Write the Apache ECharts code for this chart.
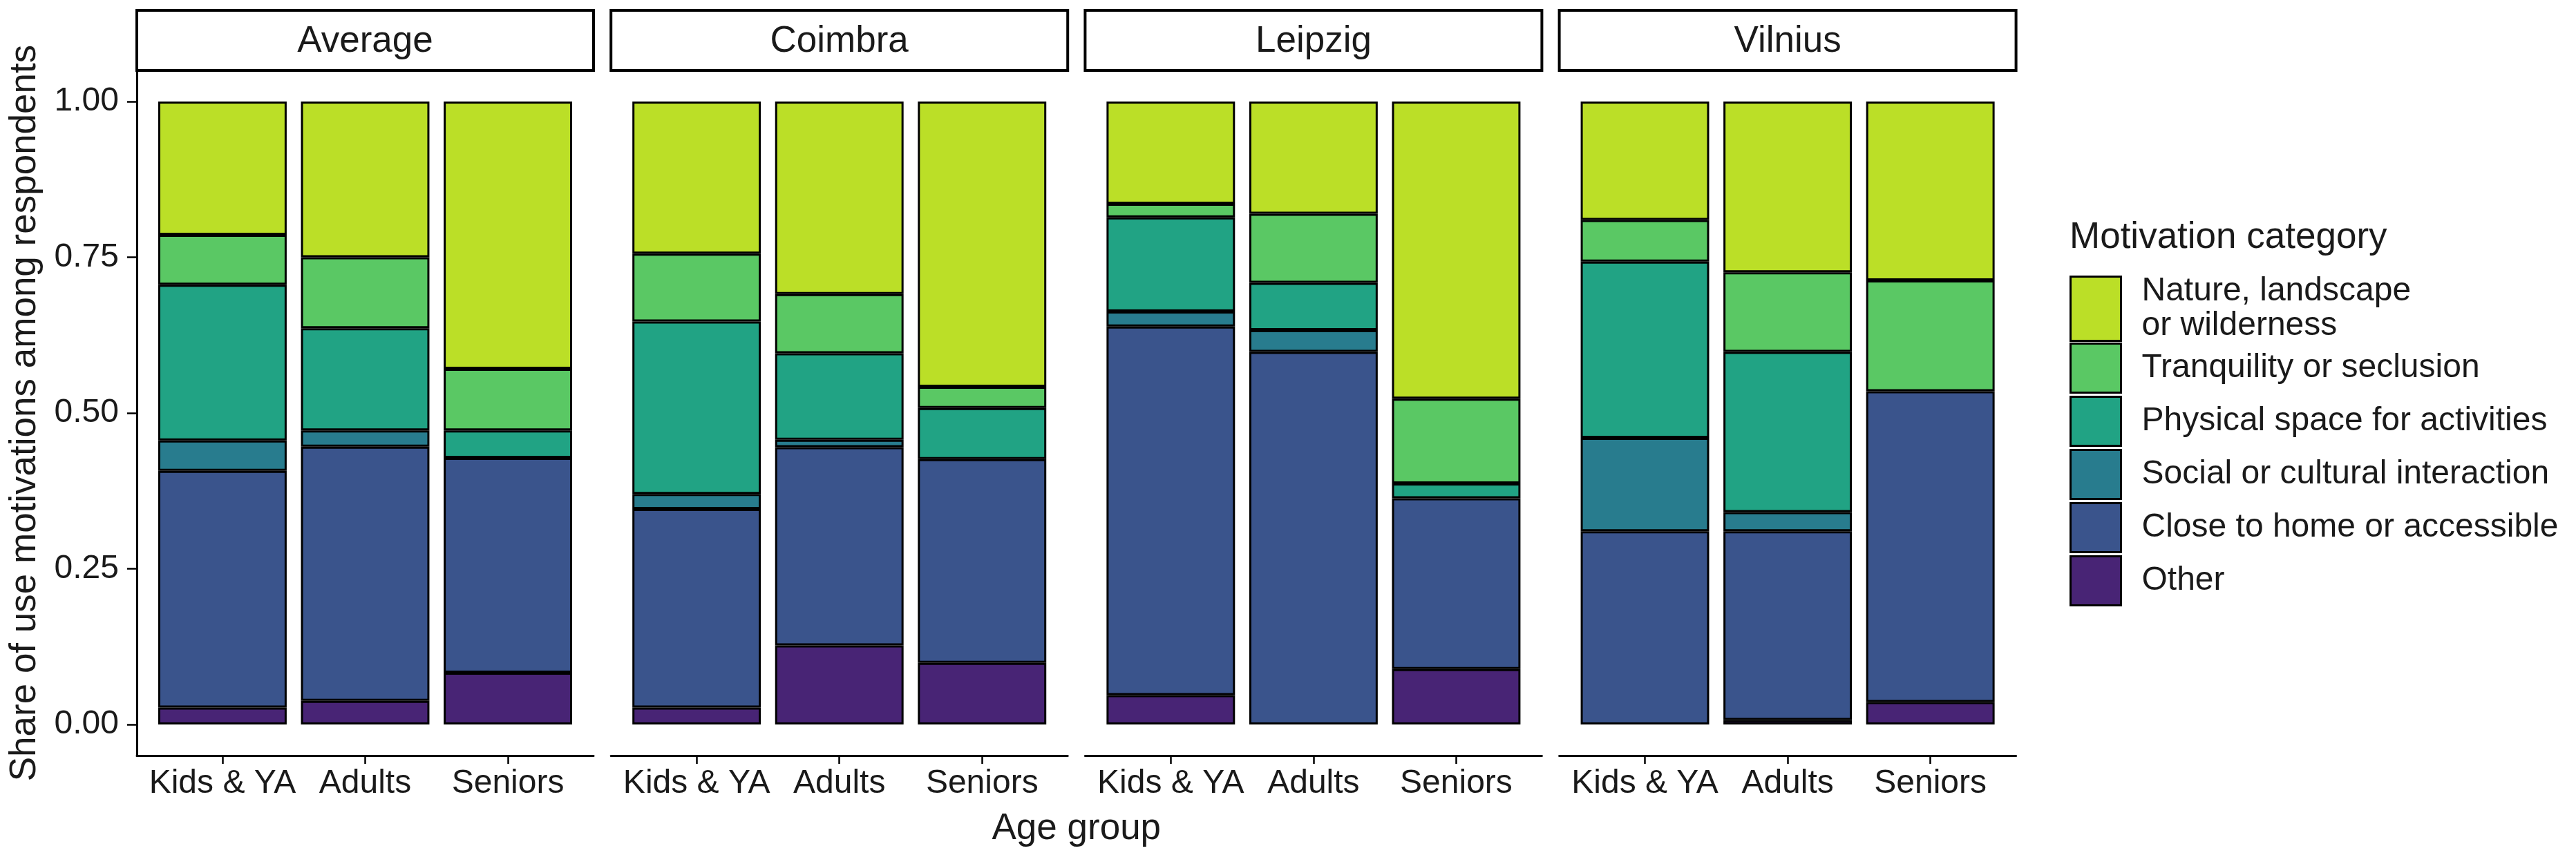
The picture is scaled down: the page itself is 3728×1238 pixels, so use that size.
<!DOCTYPE html>
<html><head><meta charset="utf-8">
<script src="https://cdn.jsdelivr.net/npm/echarts@6.0.0/dist/echarts.min.js"></script>
<style>html,body{margin:0;padding:0;background:#fff}#chart{width:3728px;height:1238px}</style>
</head><body><div id="chart"></div>
<script>
// ---------------- data ----------------
const cities = ['Average', 'Coimbra', 'Leipzig', 'Vilnius'];
const ageGroups = ['Kids & YA', 'Adults', 'Seniors'];
// stacking order, bottom to top
const motivations = ['Other', 'Close to home or accessible', 'Social or cultural interaction',
  'Physical space for activities', 'Tranquility or seclusion', 'Nature, landscape or wilderness'];
const yTickValues = [0, 0.25, 0.5, 0.75, 1];
// each array: 4 cities x 3 age groups (Kids & YA, Adults, Seniors)
const otherShare    = [0.027, 0.038, 0.083,  0.027, 0.127, 0.099,  0.047, 0.000, 0.089,  0.000, 0.007, 0.036];
const nearHomeShare = [0.380, 0.408, 0.345,  0.319, 0.318, 0.327,  0.592, 0.598, 0.274,  0.310, 0.303, 0.499];
const socialShare   = [0.049, 0.026, 0.000,  0.024, 0.012, 0.000,  0.024, 0.035, 0.000,  0.150, 0.031, 0.000];
const physicalShare = [0.250, 0.164, 0.044,  0.277, 0.139, 0.082,  0.151, 0.076, 0.024,  0.283, 0.257, 0.000];
const tranquilShare = [0.080, 0.114, 0.099,  0.109, 0.095, 0.034,  0.022, 0.111, 0.136,  0.067, 0.128, 0.178];
const natureShare   = [0.214, 0.250, 0.429,  0.244, 0.309, 0.458,  0.164, 0.180, 0.477,  0.190, 0.274, 0.287];
const shares = [otherShare, nearHomeShare, socialShare, physicalShare, tranquilShare, natureShare];

// ---------------- style / layout ----------------
const colors = ['#482475', '#3A548C', '#287C8E', '#21A384', '#5AC864', '#BBDF27'];
const FONT = '"Liberation Sans", Arial, Helvetica, sans-serif';
const TXT = '#1a1a1a';
const panelLeft0 = 198, panelPitch = 686.2, panelWidth = 661;
const panelTop = 102, panelHeight = 992, stripTop = 15;
const xExpand = 0.6; // discrete-axis padding in category units (each side)
const legendLeft = 2995, legendKeyW = 73;
const legendTops = [397, 496, 573, 650, 727, 804];
const legendHeights = [93, 71, 71, 71, 71, 71];

const chart = echarts.init(document.getElementById('chart'), null, {renderer: 'canvas'});

const nCat = ageGroups.length;
const unitPx = panelWidth / (nCat - 1 + 2 * xExpand);
const barInset = unitPx * (xExpand - 0.5);
const grid = [], xAxis = [], yAxis = [], series = [], legend = [];
const noGridOpts = {containLabel: false, outerBoundsMode: 'none'};

// 0..3 : axis grids (visible axes)
cities.forEach((city, c) => {
  const left = panelLeft0 + c * panelPitch;
  grid.push(Object.assign({left: left, top: panelTop, width: panelWidth, height: panelHeight}, noGridOpts));
  xAxis.push({
    type: 'value', gridIndex: grid.length - 1, min: 1 - xExpand, max: nCat + xExpand,
    splitLine: {show: false},
    axisLine: {show: true, onZero: false, lineStyle: {color: '#000', width: 3}},
    axisTick: {show: true, length: 12, customValues: [1, 2, 3], lineStyle: {color: '#000', width: 2.5}},
    axisLabel: {show: true, customValues: [1, 2, 3], formatter: v => ageGroups[Math.round(v) - 1],
      fontSize: 48, fontFamily: FONT, color: TXT, margin: 17}
  });
  const first = c === 0;
  yAxis.push({
    type: 'value', gridIndex: grid.length - 1, min: -0.05, max: 1.05,
    splitLine: {show: false},
    axisLine: {show: first, onZero: false, lineStyle: {color: '#000', width: 3}},
    axisTick: {show: first, length: 14, customValues: yTickValues, lineStyle: {color: '#000', width: 2.5}},
    axisLabel: {show: first, customValues: yTickValues, formatter: v => v.toFixed(2),
      fontSize: 48, fontFamily: FONT, color: TXT, margin: 26},
    name: first ? 'Share of use motivations among respondents' : '',
    nameLocation: 'middle', nameGap: 162, nameRotate: 90, nameMoveOverlap: false,
    nameTextStyle: {fontSize: 53, fontFamily: FONT, color: TXT, verticalAlign: 'middle'}
  });
});
// 4..7 : bar grids (category base, hidden axes)
const barAxisIdx = [];
cities.forEach((city, c) => {
  const left = panelLeft0 + c * panelPitch + barInset;
  grid.push(Object.assign({left: left, top: panelTop, width: panelWidth - 2 * barInset, height: panelHeight}, noGridOpts));
  const gi = grid.length - 1;
  xAxis.push({type: 'category', gridIndex: gi, data: ageGroups, show: false});
  yAxis.push({type: 'value', gridIndex: gi, min: -0.05, max: 1.05, show: false, splitLine: {show: false}});
  barAxisIdx.push(xAxis.length - 1);
});
// strips
cities.forEach((city, c) => {
  const left = panelLeft0 + c * panelPitch;
  grid.push(Object.assign({left: left, top: stripTop, width: panelWidth, height: panelTop - stripTop,
    show: true, borderColor: '#000', borderWidth: 4, backgroundColor: '#fff'}, noGridOpts));
  const gi = grid.length - 1;
  xAxis.push({type: 'category', gridIndex: gi, data: [''],
    axisLine: {show: false}, axisTick: {show: false}, axisLabel: {show: false}, splitLine: {show: false},
    name: city, nameLocation: 'middle', nameGap: -42, nameMoveOverlap: false,
    nameTextStyle: {fontSize: 53, fontFamily: FONT, color: TXT, verticalAlign: 'middle'}});
  yAxis.push({type: 'value', gridIndex: gi, show: false});
});
// overall x title
grid.push(Object.assign({left: panelLeft0, top: panelTop, width: 3 * panelPitch + panelWidth, height: panelHeight}, noGridOpts));
xAxis.push({type: 'value', gridIndex: grid.length - 1, min: 0, max: 1,
  axisLine: {show: false}, axisTick: {show: false}, axisLabel: {show: false}, splitLine: {show: false},
  name: 'Age group', nameLocation: 'middle', nameGap: 106, nameMoveOverlap: false,
  nameTextStyle: {fontSize: 53, fontFamily: FONT, color: TXT, verticalAlign: 'middle'}});
yAxis.push({type: 'value', gridIndex: grid.length - 1, show: false});

// bars
cities.forEach((city, c) => {
  motivations.forEach((m, k) => {
    series.push({
      type: 'bar', name: m, xAxisIndex: barAxisIdx[c], yAxisIndex: barAxisIdx[c], stack: 'panel' + c,
      barWidth: '90%', animation: false,
      itemStyle: {color: colors[k], borderColor: '#000', borderWidth: 3},
      data: ageGroups.map((a, i) => {
        const v = shares[k][c * nCat + i];
        return v === 0 ? '-' : v;
      })
    });
  });
});

// legend (top to bottom: reverse of stacking)
const legendOrder = motivations.slice().reverse();
const legendText = {'Nature, landscape or wilderness': 'Nature, landscape\nor wilderness'};
legendOrder.forEach((m, j) => {
  legend.push({
    data: [m], left: legendLeft, top: legendTops[j], padding: 0, orient: 'vertical',
    itemWidth: legendKeyW, itemHeight: legendHeights[j], icon: 'rect', selectedMode: false,
    itemStyle: {borderColor: '#000', borderWidth: 3},
    formatter: n => legendText[n] || n,
    textStyle: {fontSize: 48, fontFamily: FONT, color: TXT, lineHeight: 50, padding: [0, 0, 0, 25]}
  });
});

chart.setOption({
  animation: false,
  backgroundColor: '#fff',
  title: {text: 'Motivation category', left: legendLeft, top: 318, padding: 0,
    textStyle: {fontSize: 53, fontWeight: 'normal', fontFamily: FONT, color: TXT}},
  grid, xAxis, yAxis, series, legend
});
</script></body></html>
